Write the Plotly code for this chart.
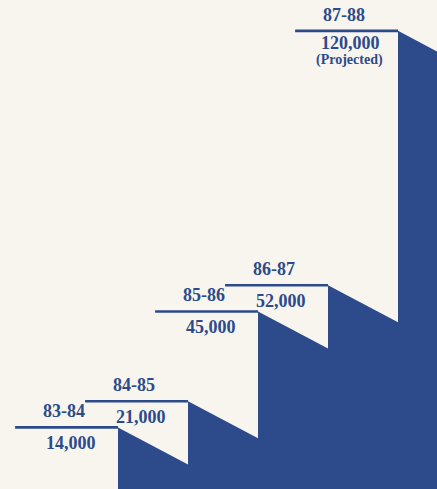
import plotly.graph_objects as go

# ---- data ----
years = ["83-84", "84-85", "85-86", "86-87", "87-88"]
enrollment = [14000, 21000, 45000, 52000, 120000]
value_labels = ["14,000", "21,000", "45,000", "52,000", "120,000"]
notes = ["", "", "", "", "(Projected)"]

# ---- style ----
NAVY = "#2d4a8b"
BG = "#f7f5ee"
FONT = "Liberation Serif"
W, H = 437, 489
x_range = [-1.186, 5.057]
y_range = [-2460, 128250]
unit_per_px = (y_range[1] - y_range[0]) / H
drop = 37 * unit_per_px          # slant of the cast shadow
tread_left, tread_right = 0.97, 0.5

idx = list(range(len(years)))

fig = go.Figure()

# shadow polygon built from the step values
sx = [idx[0] + tread_right]
sy = [y_range[0] - 5000]
for i, v in zip(idx, enrollment):
    sx += [i + tread_right, i + tread_right + 1]
    sy += [v, v - drop]
sx += [idx[-1] + tread_right + 1]
sy += [y_range[0] - 5000]
fig.add_trace(go.Scatter(x=sx, y=sy, mode="lines", fill="toself",
                         fillcolor=NAVY, line=dict(width=0, color=NAVY),
                         hoverinfo="skip", showlegend=False))

# step treads
lx, ly = [], []
for i, v in zip(idx, enrollment):
    lx += [i - tread_left, i + tread_right, None]
    ly += [v, v, None]
fig.add_trace(go.Scatter(x=lx, y=ly, mode="lines",
                         line=dict(color=NAVY, width=2.6),
                         hoverinfo="skip", showlegend=False))

ann = []
for i, v, yr, lab, nt in zip(idx, enrollment, years, value_labels, notes):
    cx = i + (tread_right - tread_left) / 2
    ann.append(dict(x=cx, y=v, xref="x", yref="y", text="<b>%s</b>" % yr,
                    showarrow=False, yanchor="middle", xanchor="center",
                    yshift=16, xshift=-3,
                    font=dict(family=FONT, size=18, color=NAVY)))
    ann.append(dict(x=cx, y=v, xref="x", yref="y", text="<b>%s</b>" % lab,
                    showarrow=False, yanchor="middle", xanchor="center",
                    yshift=-12 if nt else -16, xshift=4,
                    font=dict(family=FONT, size=18, color=NAVY)))
    if nt:
        ann.append(dict(x=cx, y=v, xref="x", yref="y", text="<b>%s</b>" % nt,
                        showarrow=False, yanchor="middle", xanchor="center",
                        yshift=-29, xshift=3,
                        font=dict(family=FONT, size=14, color=NAVY)))

fig.update_layout(
    width=W, height=H,
    margin=dict(l=0, r=0, t=0, b=0),
    paper_bgcolor=BG, plot_bgcolor=BG,
    xaxis=dict(range=x_range, visible=False, fixedrange=True),
    yaxis=dict(range=y_range, visible=False, fixedrange=True),
    annotations=ann,
    showlegend=False,
)

fig.write_html("out.html", config={"displayModeBar": False},
               post_script="document.body.style.margin='0';"
                           "document.body.style.background='%s';" % BG)
